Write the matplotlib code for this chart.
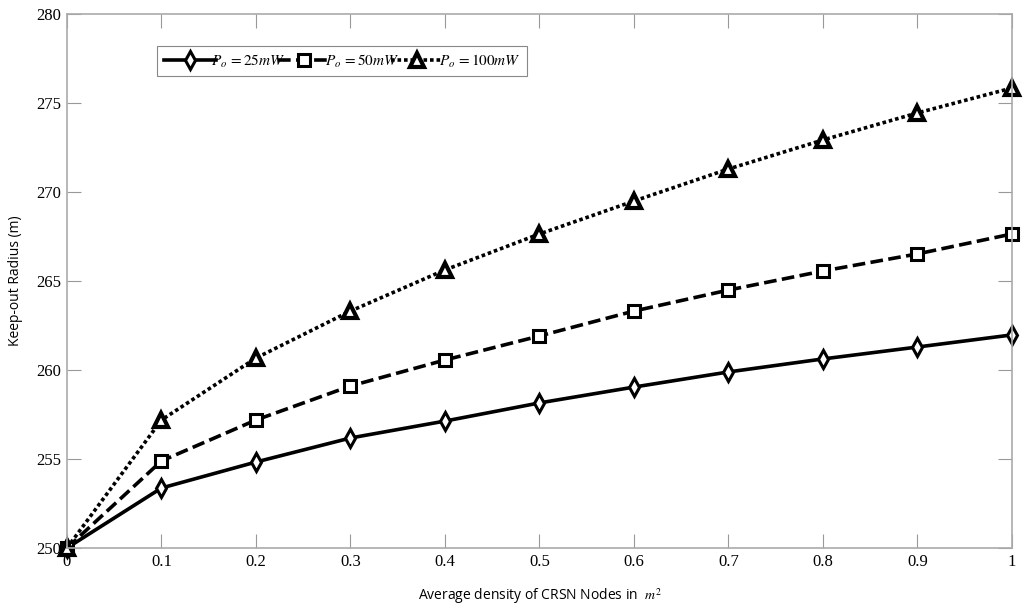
import numpy as np
import matplotlib
matplotlib.use('Agg')
from matplotlib import pyplot as plt

density = [0, 0.1, 0.2, 0.3, 0.4, 0.5, 0.6, 0.7, 0.8, 0.9, 1.0]
r_25mw = [250, 253.37, 254.83, 256.18, 257.13, 258.15, 259.04, 259.89, 260.62, 261.29, 261.97]
r_50mw = [250, 254.89, 257.19, 259.10, 260.56, 261.91, 263.31, 264.49, 265.56, 266.52, 267.64]
r_100mw = [250, 257.19, 260.67, 263.31, 265.62, 267.64, 269.49, 271.29, 272.92, 274.44, 275.84]

xticks = [0, 0.1, 0.2, 0.3, 0.4, 0.5, 0.6, 0.7, 0.8, 0.9, 1]
xticklabels = ['0', '0.1', '0.2', '0.3', '0.4', '0.5', '0.6', '0.7', '0.8', '0.9', '1']
yticks = [250, 255, 260, 265, 270, 275, 280]

plt.rcParams['mathtext.fontset'] = 'stix'

fig = plt.figure(figsize=(10.24, 6.07), dpi=100)
ax = fig.add_axes([0.0654, 0.0972, 0.9228, 0.8798])

ax.plot(density, r_25mw, color='black', lw=2.6, ls='-', marker='d',
        ms=9, mfc='white', mec='black', mew=2.2, clip_on=False,
        label=r'$P_o\,=25mW$')
ax.plot(density, r_50mw, color='black', lw=2.6, ls=(0, (3.5, 1.5)), marker='s',
        ms=8, mfc='white', mec='black', mew=2.2, clip_on=False,
        label=r'$P_o\,=50mW$')
ax.plot(density, r_100mw, color='black', lw=2.6, ls=(0, (1, 0.8)), marker='^',
        ms=10, mfc='white', mec='black', mew=3, clip_on=False,
        label=r'$P_o\,=100mW$')

ax.set_xlim(0, 1)
ax.set_ylim(250, 280)
ax.set_xticks(xticks)
ax.set_xticklabels(xticklabels, family='Liberation Serif', fontsize=12)
ax.set_yticks(yticks)
ax.set_yticklabels([str(v) for v in yticks], family='Liberation Serif', fontsize=12)
ax.tick_params(direction='in', length=10, color='#999999', top=True, right=True, pad=4)

for s in ax.spines.values():
    s.set_color('#aaaaaa')
    s.set_linewidth(1.2)

ax.set_xlabel(r'Average density of CRSN Nodes in  $m^2$', family='Open Sans',
              fontsize=10, labelpad=12)
ax.set_ylabel('Keep-out Radius (m)', family='Open Sans', fontsize=10, labelpad=10)

leg = ax.legend(loc='upper left', bbox_to_anchor=(0.087, 0.955), ncol=3,
                fancybox=False, framealpha=1, edgecolor='#888888',
                handlelength=3.4, handletextpad=-0.3, columnspacing=-0.5,
                borderpad=0.45, fontsize=11)
leg.get_frame().set_linewidth(0.8)

fig.savefig('out.png', dpi=100)
